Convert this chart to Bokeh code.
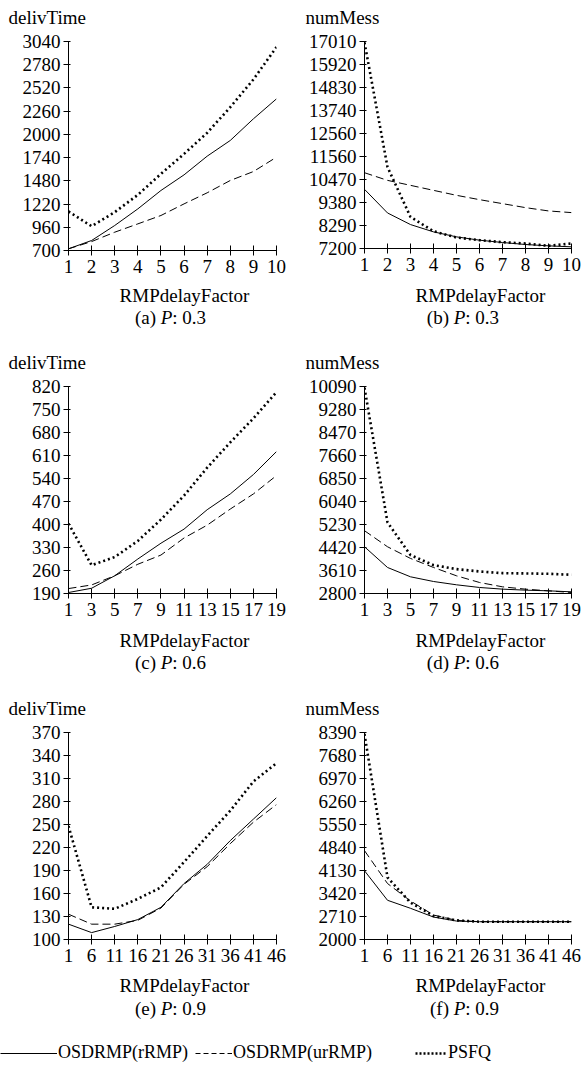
from bokeh.plotting import figure
from bokeh.models import Range1d, FixedTicker, Label, Legend, LegendItem
from bokeh.layouts import column, row
from bokeh.embed import file_html
from bokeh.resources import INLINE

# ---------------- data ----------------
x_a = [1, 2, 3, 4, 5, 6, 7, 8, 9, 10]
a_rRMP = [719, 812, 980, 1166, 1372, 1547, 1756, 1932, 2174, 2398]
a_urRMP = [719, 800, 905, 998, 1092, 1222, 1346, 1484, 1584, 1745]
a_PSFQ = [1137, 972, 1129, 1323, 1558, 1782, 2017, 2305, 2615, 2977]
a_yticks = [700, 960, 1220, 1480, 1740, 2000, 2260, 2520, 2780, 3040]

x_b = [1, 2, 3, 4, 5, 6, 7, 8, 9, 10]
b_rRMP = [10004, 8885, 8334, 7988, 7751, 7594, 7484, 7389, 7326, 7279]
b_urRMP = [10791, 10429, 10193, 9956, 9720, 9515, 9326, 9137, 8980, 8901]
b_PSFQ = [16965, 11059, 8696, 8019, 7720, 7594, 7500, 7436, 7326, 7436]
b_yticks = [7200, 8290, 9380, 10470, 11560, 12650, 13740, 14830, 15920, 17010]
b_ylabels = ["7200", "8290", "9380", "10470", "11560", "12560", "13740", "14830", "15920", "17010"]

x_c = [1, 3, 5, 7, 9, 11, 13, 15, 17, 19]
c_rRMP = [193, 206, 244, 295, 343, 386, 445, 493, 552, 622]
c_urRMP = [205, 216, 244, 279, 307, 359, 398, 447, 493, 549]
c_PSFQ = [403, 276, 301, 350, 415, 488, 573, 650, 723, 803]
c_yticks = [190, 260, 330, 400, 470, 540, 610, 680, 750, 820]

x_d = [1, 3, 5, 7, 9, 11, 13, 15, 17, 19]
d_rRMP = [4446, 3717, 3388, 3223, 3106, 3012, 2953, 2918, 2894, 2859]
d_urRMP = [5011, 4446, 4035, 3717, 3423, 3188, 3035, 2953, 2894, 2835]
d_PSFQ = [10044, 5305, 4152, 3800, 3658, 3576, 3517, 3506, 3494, 3459]
d_yticks = [2800, 3610, 4420, 5230, 6040, 6850, 7660, 8470, 9280, 10090]

x_e = [1, 6, 11, 16, 21, 26, 31, 36, 41, 46]
e_rRMP = [120, 109, 117, 126, 142, 173, 198, 229, 257, 285]
e_urRMP = [133, 120, 120, 125, 141, 172, 195, 225, 253, 276]
e_PSFQ = [248, 142, 140, 153, 168, 201, 235, 268, 306, 330]
e_yticks = [100, 130, 160, 190, 220, 250, 280, 310, 340, 370]

x_f = [1, 6, 11, 16, 21, 26, 31, 36, 41, 46]
f_rRMP = [4122, 3211, 2963, 2693, 2569, 2549, 2549, 2549, 2549, 2549]
f_urRMP = [4743, 3728, 3190, 2756, 2590, 2549, 2549, 2549, 2549, 2549]
f_PSFQ = [8345, 3915, 3139, 2725, 2590, 2549, 2549, 2549, 2549, 2549]
f_yticks = [2000, 2710, 3420, 4130, 4840, 5550, 6260, 6970, 7680, 8390]

series_names = ["OSDRMP(rRMP)", "OSDRMP(urRMP)", "PSFQ"]
x_label = "RMPdelayFactor"

# ---------------- styles ----------------
FONT = "Liberation Serif"
FS = "19px"
W = 582
STYLES = [
    dict(line_color="black", line_width=1),
    dict(line_color="black", line_width=1, line_dash="8 4"),
    dict(line_color="black", line_width=2.6, line_dash="2 3"),
]
LEGEND_STYLES = [
    dict(line_color="black", line_width=1),
    dict(line_color="black", line_width=1, line_dash="5 3"),
    dict(line_color="black", line_width=2.6, line_dash="2 2"),
]


def panel(xs, series, yticks, fw, fh, left, right, top, bottom, ylabels=None):
    p = figure(frame_width=fw, frame_height=fh,
               x_range=Range1d(xs[0], xs[-1]), y_range=Range1d(yticks[0], yticks[-1]),
               output_backend="svg", toolbar_location=None,
               min_border_left=left, min_border_right=right,
               min_border_top=top, min_border_bottom=bottom)
    p.outline_line_color = None
    p.grid.visible = False
    p.background_fill_color = "white"
    p.border_fill_color = "white"
    for ys, st in zip(series, STYLES):
        p.line(xs, ys, **st)
    xa = p.xaxis[0]
    xa.ticker = FixedTicker(ticks=xs)
    xa.major_tick_in = 5
    xa.major_tick_out = 5
    xa.major_label_standoff = 4
    ya = p.yaxis[0]
    ya.ticker = FixedTicker(ticks=yticks)
    ya.major_tick_in = 2
    ya.major_tick_out = 5
    ya.major_label_standoff = 3
    if ylabels is not None:
        ya.major_label_overrides = {v: s for v, s in zip(yticks, ylabels)}
    for ax in (xa, ya):
        ax.minor_tick_line_color = None
        ax.axis_line_color = "black"
        ax.major_tick_line_color = "black"
        ax.major_label_text_font = FONT
        ax.major_label_text_font_size = FS
        ax.major_label_text_color = "black"
    return p


def strip(h):
    s = figure(frame_width=W, frame_height=h, x_range=Range1d(0, W), y_range=Range1d(h, 0),
               output_backend="svg", toolbar_location=None,
               x_axis_location=None, y_axis_location=None,
               min_border_left=0, min_border_right=0, min_border_top=0, min_border_bottom=0)
    s.grid.visible = False
    s.outline_line_color = None
    s.background_fill_color = "white"
    s.border_fill_color = "white"
    return s


def txt(s, x, y, text, align="left", style="normal"):
    s.add_layout(Label(x=x, y=y, text=text, text_font=FONT, text_font_size=FS,
                       text_align=align, text_baseline="middle", text_color="black",
                       text_font_style=style))


def caption(s, cx, y, letter, pval):
    start = cx - 35.6
    txt(s, start + 21.1, y, "(%s)" % letter, align="right")
    txt(s, start + 25.8, y, "P", style="italic")
    txt(s, start + 37.4, y, ": %s" % pval)


def xlab_and_captions(s, y_lab, y_cap, letters, pval):
    txt(s, 184, y_lab, x_label, align="center")
    txt(s, 480, y_lab, x_label, align="center")
    caption(s, 170, y_cap, letters[0], pval)
    caption(s, 463, y_cap, letters[1], pval)


def titles(s, y):
    txt(s, 8, y, "delivTime")
    txt(s, 305, y, "numMess")


# panels
pa = panel(x_a, [a_rRMP, a_urRMP, a_PSFQ], a_yticks, 208, 209, 68, 15, 11, 35)
pb = panel(x_b, [b_rRMP, b_urRMP, b_PSFQ], b_yticks, 207, 207, 73, 11, 13, 35, ylabels=b_ylabels)
pc = panel(x_c, [c_rRMP, c_urRMP, c_PSFQ], c_yticks, 208, 207, 68, 15, 14, 35)
pd = panel(x_d, [d_rRMP, d_urRMP, d_PSFQ], d_yticks, 207, 207, 73, 11, 14, 35)
pe = panel(x_e, [e_rRMP, e_urRMP, e_PSFQ], e_yticks, 208, 207, 68, 15, 14, 35)
pf = panel(x_f, [f_rRMP, f_urRMP, f_PSFQ], f_yticks, 207, 207, 73, 11, 14, 35)

# text strips
s0 = strip(28)
titles(s0, 17)

s1 = strip(89)
xlab_and_captions(s1, 12, 34, ("a", "b"), "0.3")
titles(s1, 79)

s2 = strip(90)
xlab_and_captions(s2, 12, 34, ("c", "d"), "0.6")
titles(s2, 80)

s3 = strip(91)
xlab_and_captions(s3, 11, 34, ("e", "f"), "0.9")

# legend (sample renderers lie outside the strip's visible range)
leg_geom = [(0, 57), (195, 37), (415, 32)]
for name, ys, st, (lx, gw) in zip(series_names, [e_rRMP, e_urRMP, e_PSFQ], LEGEND_STYLES, leg_geom):
    r = s3.line(x_e, ys, **st)
    lg = Legend(items=[LegendItem(label=name, renderers=[r])], location=(lx, 2),
                orientation="horizontal", glyph_width=gw, glyph_height=20,
                label_height=20, label_standoff=1, padding=0, margin=0, spacing=0,
                border_line_color=None, background_fill_alpha=0,
                label_text_font=FONT, label_text_font_size="18px",
                label_text_color="black")
    s3.add_layout(lg)

layout = column(s0, row(pa, pb), s1, row(pc, pd), s2, row(pe, pf), s3)

open("out.html", "w").write(file_html(layout, INLINE))
